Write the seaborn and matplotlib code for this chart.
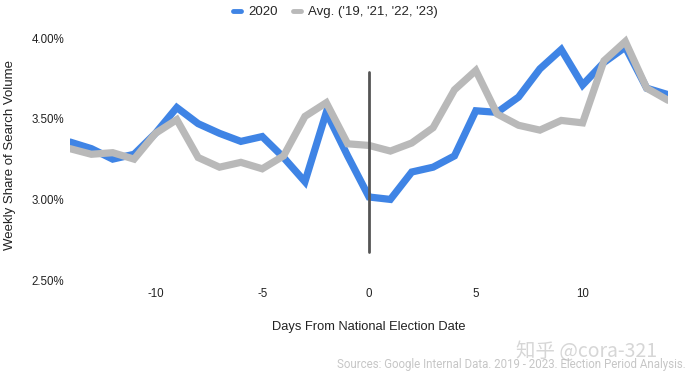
import matplotlib
matplotlib.use("Agg")
import matplotlib.pyplot as plt
import seaborn as sns
import pandas as pd
import numpy as np
from matplotlib.lines import Line2D

days = list(range(-14, 15))
series_2020 = [3.356, 3.315, 3.25, 3.28, 3.41, 3.57, 3.47, 3.41, 3.36, 3.39,
               3.26, 3.11, 3.54, 3.27, 3.015, 3.00, 3.17, 3.20, 3.27, 3.55,
               3.54, 3.635, 3.81, 3.93, 3.71, 3.85, 3.945, 3.69, 3.65]
series_avg = [3.315, 3.28, 3.29, 3.25, 3.41, 3.495, 3.26, 3.20, 3.23, 3.19,
              3.27, 3.515, 3.60, 3.345, 3.335, 3.30, 3.35, 3.445, 3.68, 3.80,
              3.53, 3.46, 3.43, 3.49, 3.475, 3.86, 3.98, 3.69, 3.615]
series_names = ["2020", "Avg. ('19, '21, '22, '23)"]
y_ticks = [2.5, 3.0, 3.5, 4.0]
y_tick_labels = ["2.50%", "3.00%", "3.50%", "4.00%"]
x_ticks = [-10, -5, 0, 5, 10]
x_tick_labels = ["-10", "-5", "0", "5", "10"]
election_line = [2.673, 3.79]

sns.set_theme(style="white")
plt.rcParams['font.family'] = ['Liberation Sans', 'DejaVu Sans']

df = pd.DataFrame({
    "day": days * 2,
    "value": series_2020 + series_avg,
    "series": [series_names[0]] * len(days) + [series_names[1]] * len(days),
})

blue = "#3f84e5"
gray = "#b9b9b9"

fig = plt.figure(figsize=(6.93, 3.82), dpi=100)
ax = fig.add_axes([0.101, 0.267, 0.863, 0.654])

sns.lineplot(data=df[df.series == series_names[0]], x="day", y="value",
             color=blue, linewidth=5.2, ax=ax, legend=False, solid_joinstyle="miter")
sns.lineplot(data=df[df.series == series_names[1]], x="day", y="value",
             color=gray, linewidth=5.2, ax=ax, legend=False, solid_joinstyle="miter")

ax.plot([0, 0], election_line, color="#555555", linewidth=2.0, zorder=5)

ax.set_xlim(-14, 14)
ax.set_ylim(2.5, 4.05)
ax.set_yticks(y_ticks)
ax.set_yticklabels(y_tick_labels)
ax.set_xticks(x_ticks)
ax.set_xticklabels(x_tick_labels)
ax.tick_params(axis="both", length=0, labelsize=8.3, colors="#222222")
ax.tick_params(axis="x", pad=6)
ax.tick_params(axis="y", pad=4)
for s in ax.spines.values():
    s.set_visible(False)
ax.grid(False)

ax.set_xlabel("Days From National Election Date", fontsize=9.3, color="#222222", labelpad=15)
ax.set_ylabel("Weekly Share of Search Volume", fontsize=9.5, color="#222222", labelpad=11)

handles = [Line2D([0], [0], color=blue, linewidth=3.5),
           Line2D([0], [0], color=gray, linewidth=3.5)]
fig.legend(handles, series_names, loc="center", bbox_to_anchor=(0.484, 0.968),
           ncol=2, frameon=False, fontsize=9.5, handlelength=0.6,
           handletextpad=0.5, columnspacing=1.2)

fig.text(0.989, 0.045, "Sources: Google Internal Data. 2019 - 2023. Election Period Analysis.",
         ha="right", va="center", fontsize=8.3, color="#c6c6c6", family=["Roboto", "DejaVu Sans"])
fig.text(0.745, 0.08, "知乎 @cora-321", ha="left", va="center", fontsize=14,
         color="#bbbbbb", alpha=0.6, family=["Noto Sans CJK SC", "DejaVu Sans"])

fig.savefig("out.png", dpi=100)
